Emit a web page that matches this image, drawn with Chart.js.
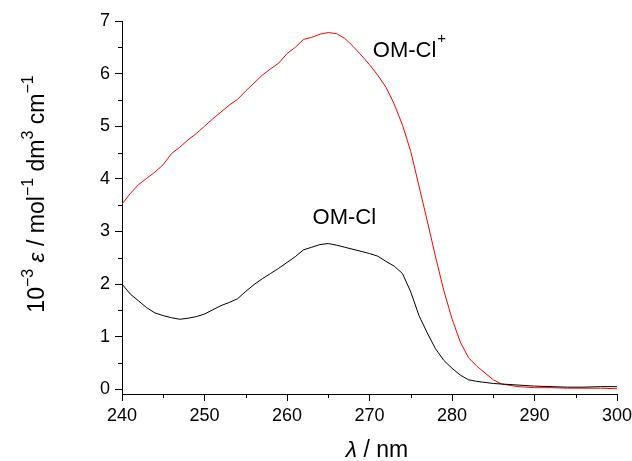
<!DOCTYPE html>
<html>
<head>
<meta charset="utf-8">
<script src="https://cdn.jsdelivr.net/npm/chart.js@4.4.1/dist/chart.umd.min.js"></script>
<style>
  html, body { margin: 0; padding: 0; background: #fff; }
  #wrap { width: 632px; height: 461px; }
</style>
</head>
<body>
<div id="wrap"><canvas id="chart" width="632" height="461"></canvas></div>
<script>
// wavelength (nm)
const wavelengths = [240, 241, 242, 243, 244, 245, 246, 247, 248, 249, 250, 251, 252, 253, 254, 255, 256, 257, 258, 259,
    260, 261, 262, 263, 264, 265, 266, 267, 268, 269, 270, 271, 272, 273, 274, 275, 276, 277, 278, 279,
    280, 281, 282, 283, 284, 285, 286, 288, 290, 292, 294, 296, 298, 300];

// 10^-3 eps, OM-Cl+ (red)
const omClPlus = [3.52, 3.72, 3.89, 4.01, 4.13, 4.27, 4.48, 4.60, 4.74, 4.86, 5.00, 5.14, 5.27, 5.40, 5.51, 5.67, 5.82, 5.97, 6.09, 6.20,
    6.38, 6.50, 6.65, 6.69, 6.75, 6.78, 6.76, 6.67, 6.52, 6.35, 6.17, 5.97, 5.74, 5.42, 5.02, 4.52, 3.86, 3.20, 2.52, 1.88,
    1.34, 0.90, 0.60, 0.44, 0.31, 0.18, 0.10, 0.05, 0.03, 0.03, 0.02, 0.02, 0.02, 0.01];

// 10^-3 eps, OM-Cl (black)
const omCl = [2.00, 1.81, 1.68, 1.55, 1.45, 1.40, 1.36, 1.33, 1.35, 1.38, 1.43, 1.51, 1.59, 1.65, 1.72, 1.86, 1.99, 2.10, 2.20, 2.30,
    2.41, 2.52, 2.65, 2.70, 2.75, 2.77, 2.74, 2.70, 2.66, 2.62, 2.58, 2.53, 2.43, 2.34, 2.20, 1.85, 1.40, 1.07, 0.77, 0.55,
    0.40, 0.27, 0.18, 0.15, 0.13, 0.11, 0.10, 0.08, 0.06, 0.05, 0.04, 0.04, 0.05, 0.05];

const xTicks = [240, 250, 260, 270, 280, 290, 300];
const xMinorTicks = [245, 255, 265, 275, 285, 295];
const yTicks = [0, 1, 2, 3, 4, 5, 6, 7];
const yMinorTicks = [0.5, 1.5, 2.5, 3.5, 4.5, 5.5, 6.5];

const FONT = "'Liberation Sans', Arial, sans-serif";

function toPoints(ys) {
    return wavelengths.map((x, i) => ({ x: x, y: ys[i] }));
}

// draw a row of text pieces; kind: n = normal, i = italic, s = superscript
function drawRuns(ctx, runs, x, y, size, align, supRatio, rise) {
    const supSize = Math.round(size * supRatio);
    const fontOf = r => (r.k === 'i' ? 'italic ' : '') + (r.k === 's' ? supSize : size) + 'px ' + FONT;
    let total = 0;
    runs.forEach(r => { ctx.font = fontOf(r); total += ctx.measureText(r.t).width + (r.gap || 0); });
    let cx = align === 'center' ? x - total / 2 : x;
    ctx.textAlign = 'left';
    ctx.textBaseline = 'alphabetic';
    runs.forEach(r => {
        ctx.font = fontOf(r);
        cx += r.gap || 0;
        ctx.fillText(r.t, cx, r.k === 's' ? y - size * rise : y);
        cx += ctx.measureText(r.t).width;
    });
}

const extras = {
    id: 'extras',
    afterDraw(chart) {
        const ctx = chart.ctx;
        const xs = chart.scales.x, ys = chart.scales.y;
        ctx.save();
        ctx.strokeStyle = '#000';
        ctx.lineWidth = 1;
        // minor ticks
        ctx.beginPath();
        xMinorTicks.forEach(v => {
            const px = Math.round(xs.getPixelForValue(v)) + 0.5;
            ctx.moveTo(px, ys.bottom);
            ctx.lineTo(px, ys.bottom + 4);
        });
        yMinorTicks.forEach(v => {
            const py = Math.round(ys.getPixelForValue(v)) + 0.5;
            ctx.moveTo(xs.left - 4, py);
            ctx.lineTo(xs.left, py);
        });
        ctx.stroke();

        ctx.fillStyle = '#000';
        // curve labels
        drawRuns(ctx, [{ t: 'OM-Cl', k: 'n' }, { t: '+', k: 's', gap: 1 }],
            xs.getPixelForValue(270.4), ys.getPixelForValue(6.32), 22, 'left', 0.68, 0.62);
        drawRuns(ctx, [{ t: 'OM-Cl', k: 'n' }],
            xs.getPixelForValue(263.1), ys.getPixelForValue(3.15), 22, 'left', 0.68, 0.6);

        // x axis title
        drawRuns(ctx, [{ t: 'λ', k: 'i' }, { t: ' / nm', k: 'n' }], 377, 457, 23, 'center', 0.7, 0.45);

        // y axis title
        ctx.save();
        ctx.translate(44, 194);
        ctx.rotate(-Math.PI / 2);
        drawRuns(ctx, [
            { t: '10', k: 'n' }, { t: '−3', k: 's' }, { t: ' ', k: 'n' }, { t: 'ε', k: 'i' },
            { t: ' / mol', k: 'n' }, { t: '−1', k: 's' }, { t: ' dm', k: 'n' }, { t: '3', k: 's' },
            { t: ' cm', k: 'n' }, { t: '−1', k: 's' }
        ], 0, 0, 23, 'center', 0.68, 0.48);
        ctx.restore();
        ctx.restore();
    }
};

const axisGrid = { display: true, drawOnChartArea: false, drawTicks: true, tickLength: 7, tickColor: '#000', color: '#000' };

new Chart(document.getElementById('chart').getContext('2d'), {
    type: 'line',
    data: {
        datasets: [
            { label: 'OM-Cl', data: toPoints(omCl), borderColor: '#000000', borderWidth: 1, pointRadius: 0, tension: 0, fill: false },
            { label: 'OM-Cl+', data: toPoints(omClPlus), borderColor: '#ff0000', borderWidth: 1, pointRadius: 0, tension: 0, fill: false }
        ]
    },
    options: {
        responsive: false,
        animation: false,
        layout: { padding: { left: 0, right: 15, top: 21, bottom: 0 } },
        plugins: { legend: { display: false }, tooltip: { enabled: false } },
        scales: {
            x: {
                type: 'linear', min: 240, max: 300,
                afterBuildTicks: s => { s.ticks = xTicks.map(v => ({ value: v })); },
                afterFit: s => { s.height = 67; s.paddingLeft = 0; s.paddingRight = 0; },
                grid: axisGrid,
                border: { display: true, color: '#000', width: 1 },
                ticks: { color: '#000', font: { family: FONT, size: 18 }, padding: 4, maxRotation: 0, autoSkip: false }
            },
            y: {
                type: 'linear', min: -0.09, max: 7,
                afterBuildTicks: s => { s.ticks = yTicks.map(v => ({ value: v })); },
                afterFit: s => { s.width = 122; s.paddingTop = 0; s.paddingBottom = 0; },
                grid: axisGrid,
                border: { display: true, color: '#000', width: 1 },
                ticks: { color: '#000', font: { family: FONT, size: 18 }, padding: 5, autoSkip: false }
            }
        }
    },
    plugins: [extras]
});
</script>
</body>
</html>
